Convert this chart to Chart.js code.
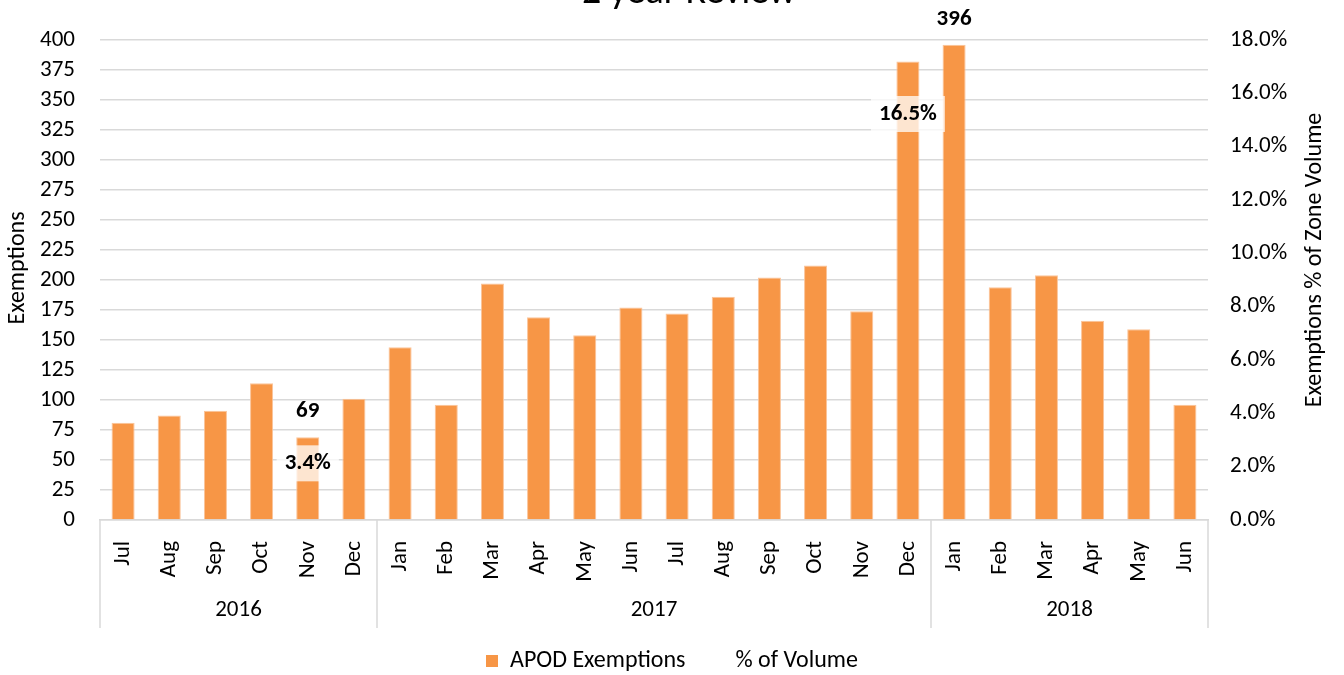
<!DOCTYPE html>
<html>
<head>
<meta charset="utf-8">
<script src="https://cdn.jsdelivr.net/npm/chart.js@4.4.1/dist/chart.umd.min.js"></script>
<style>
html,body{margin:0;padding:0;background:#fff;overflow:hidden}
canvas{display:block}
</style>
</head>
<body>
<canvas id="c" width="1344" height="675"></canvas>
<script>
// ---- data ----
const months = ['Jul','Aug','Sep','Oct','Nov','Dec','Jan','Feb','Mar','Apr','May','Jun','Jul','Aug','Sep','Oct','Nov','Dec','Jan','Feb','Mar','Apr','May','Jun'];
const years = ['2016','2017','2018'];
const yearSpans = [6, 12, 6];
const exemptions = [81,87,91,114,69,101,144,96,197,169,154,177,172,186,202,212,174,382,396,194,204,166,159,96];
const pctVolume = [null,null,null,null,3.4,null,null,null,null,null,null,null,null,null,null,null,null,16.5,null,null,null,null,null,null];
const barLabelIdx = [4, 18];
const pctLabelIdx = [4, 17];
const leftMin = 0, leftMax = 400, leftStep = 25;
const rightMin = 0, rightMax = 18, rightStep = 2;
const chartTitle = '2 year Review';
const leftTitle = 'Exemptions';
const rightTitle = 'Exemptions % of Zone Volume';
const seriesNames = ['APOD Exemptions', '% of Volume'];

// ---- style ----
const FONT = 'Carlito, Lato, sans-serif';
const BAR = '#F79646';
const GRID = '#d9d9d9';
const TXT = '#000000';

const deco = {
  id: 'deco',
  afterDatasetsDraw(chart) {
    const ctx = chart.ctx;
    ctx.save();
    const m0 = chart.getDatasetMeta(0);
    ctx.font = 'bold 23px ' + FONT;
    ctx.fillStyle = TXT;
    ctx.textAlign = 'center';
    ctx.textBaseline = 'middle';
    barLabelIdx.forEach(i => {
      const el = m0.data[i];
      ctx.fillText(String(exemptions[i]), el.x, el.y - 25.5);
    });
    const m1 = chart.getDatasetMeta(1);
    pctLabelIdx.forEach(i => {
      const el = m1.data[i];
      const txt = pctVolume[i].toFixed(1) + '%';
      const w = ctx.measureText(txt).width + 16;
      const h = 36;
      const cy = el.y + 34;
      ctx.fillStyle = 'rgba(255,255,255,0.75)';
      ctx.fillRect(el.x - w / 2, cy - h / 2, w, h);
      ctx.fillStyle = TXT;
      ctx.fillText(txt, el.x, cy);
    });
    ctx.restore();
  },
  afterDraw(chart) {
    const ctx = chart.ctx;
    const xs = chart.scales.x;
    const area = chart.chartArea;
    ctx.save();
    ctx.font = '38px ' + FONT;
    ctx.fillStyle = TXT;
    ctx.textAlign = 'center';
    ctx.textBaseline = 'alphabetic';
    ctx.fillText(chartTitle, 689, 3);
    ctx.strokeStyle = GRID;
    ctx.lineWidth = 1.5;
    let start = 0;
    const bounds = [area.left];
    yearSpans.forEach(n => {
      const end = start + n;
      const bx = end >= months.length ? area.right : (xs.getPixelForValue(end - 1) + xs.getPixelForValue(end)) / 2;
      bounds.push(bx);
      start = end;
    });
    bounds.forEach(bx => {
      ctx.beginPath();
      ctx.moveTo(bx, area.bottom);
      ctx.lineTo(bx, 628);
      ctx.stroke();
    });
    ctx.font = '23px ' + FONT;
    ctx.textBaseline = 'middle';
    years.forEach((y, k) => {
      ctx.fillText(y, (bounds[k] + bounds[k + 1]) / 2, 610);
    });
    ctx.font = '24px ' + FONT;
    ctx.save();
    ctx.translate(18, 268);
    ctx.rotate(-Math.PI / 2);
    ctx.fillText(leftTitle, 0, 0);
    ctx.restore();
    ctx.save();
    ctx.translate(1315, 260);
    ctx.rotate(-Math.PI / 2);
    ctx.fillText(rightTitle, 0, 0);
    ctx.restore();
    ctx.restore();
  }
};

new Chart(document.getElementById('c'), {
  data: {
    labels: months,
    datasets: [
      {
        type: 'bar',
        label: seriesNames[0],
        data: exemptions,
        backgroundColor: BAR,
        borderColor: '#FBC49A',
        borderWidth: 1,
        barPercentage: 0.5,
        categoryPercentage: 1.0,
        yAxisID: 'y',
        order: 2
      },
      {
        type: 'line',
        label: seriesNames[1],
        data: pctVolume,
        showLine: false,
        pointRadius: 0,
        pointHoverRadius: 0,
        borderColor: 'rgba(0,0,0,0)',
        backgroundColor: 'rgba(0,0,0,0)',
        yAxisID: 'y1',
        order: 1
      }
    ]
  },
  options: {
    responsive: false,
    animation: false,
    devicePixelRatio: 1,
    layout: { padding: { top: 40, bottom: -8, left: 0, right: 0 } },
    plugins: {
      title: { display: false },
      tooltip: { enabled: false },
      legend: {
        position: 'bottom',
        labels: {
          font: { family: FONT, size: 24 },
          color: TXT,
          boxWidth: 12,
          boxHeight: 12,
          padding: 26,
          generateLabels: () => [
            { text: seriesNames[0], fillStyle: BAR, strokeStyle: BAR, lineWidth: 0, hidden: false, datasetIndex: 0, fontColor: TXT },
            { text: seriesNames[1], fillStyle: 'rgba(0,0,0,0)', strokeStyle: 'rgba(0,0,0,0)', lineWidth: 0, hidden: false, datasetIndex: 1, fontColor: TXT }
          ]
        }
      }
    },
    scales: {
      x: {
        type: 'category',
        offset: true,
        grid: { display: false },
        border: { display: true, color: GRID, width: 1.5 },
        ticks: {
          autoSkip: false,
          minRotation: 90,
          maxRotation: 90,
          padding: 13,
          color: TXT,
          font: { family: FONT, size: 23 }
        },
        afterFit: s => { s.height = 103; }
      },
      y: {
        position: 'left',
        min: leftMin,
        max: leftMax,
        grid: { color: GRID, lineWidth: 1.5, drawTicks: false },
        border: { display: false },
        ticks: {
          stepSize: leftStep,
          autoSkip: false,
          padding: 25,
          color: TXT,
          font: { family: FONT, size: 23, lineHeight: 1 }
        },
        afterFit: s => { s.width = 100; }
      },
      y1: {
        position: 'right',
        min: rightMin,
        max: rightMax,
        grid: { display: false, drawTicks: false },
        border: { display: false },
        ticks: {
          stepSize: rightStep,
          autoSkip: false,
          padding: 22,
          color: TXT,
          font: { family: FONT, size: 23, lineHeight: 1 },
          callback: v => Number(v).toFixed(1) + '%'
        },
        afterFit: s => { s.width = 136; }
      }
    }
  },
  plugins: [deco]
});
</script>
</body>
</html>
